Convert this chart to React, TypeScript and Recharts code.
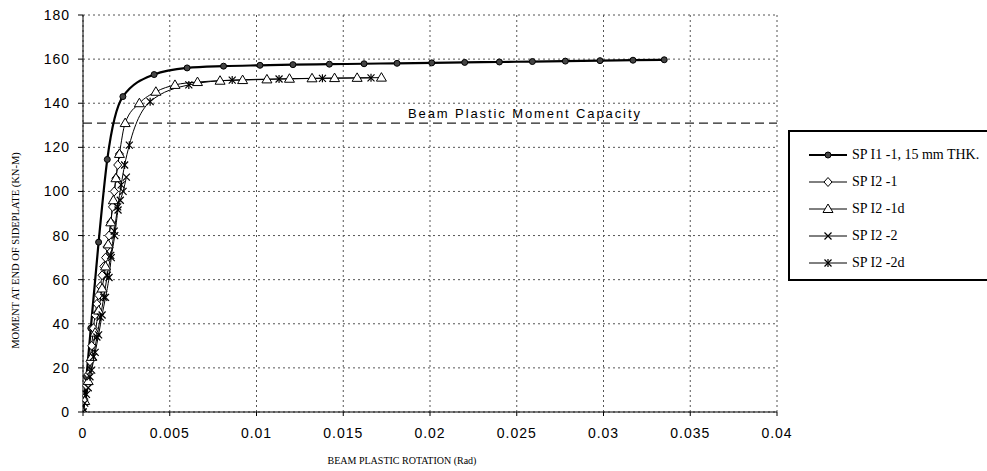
import React from 'react';
import { LineChart, Line, XAxis, YAxis, CartesianGrid, ReferenceLine, Legend } from 'recharts';

// SP I1-1, 15 mm THK. (filled circles)
const sp11X = [0, 0.0002, 0.00045, 0.0009, 0.0014, 0.0023, 0.0041, 0.006, 0.0081, 0.0102, 0.0121, 0.0142, 0.0162, 0.0181, 0.0201, 0.022, 0.024, 0.0259, 0.0278, 0.0298, 0.0317, 0.0335];
const sp11Y = [0, 16, 38, 77, 114.5, 143, 153, 156, 156.8, 157.2, 157.5, 157.7, 157.9, 158.1, 158.3, 158.5, 158.7, 158.9, 159.1, 159.3, 159.5, 159.7];

// SP I2-1 (open diamonds)
const sp21X = [0, 0.00004, 0.00019, 0.0003, 0.0004, 0.0005, 0.0006, 0.0007, 0.0008, 0.0009, 0.001, 0.0011, 0.0012, 0.0013, 0.0014, 0.0015, 0.0016, 0.0017, 0.0018, 0.0019, 0.002, 0.0021];
const sp21Y = [0, 6, 12, 17, 23, 30, 38, 44, 49, 53, 57, 62, 66, 70, 75, 80, 86, 93, 100, 106, 112, 117];

// SP I2-1d (open triangles)
const sp21dX = [0, 0.0001, 0.0003, 0.0005, 0.0007, 0.0009, 0.0011, 0.0013, 0.00145, 0.0016, 0.00175, 0.0019, 0.0021, 0.00243, 0.00325, 0.0042, 0.0053, 0.0066, 0.0079, 0.0092, 0.0106, 0.0119, 0.0132, 0.0145, 0.0158, 0.0172];
const sp21dY = [0, 5, 14, 25, 36, 46, 56, 66, 76, 86, 96, 106, 117, 131, 140, 145.2, 148.3, 149.6, 150.2, 150.5, 150.8, 151.1, 151.3, 151.4, 151.5, 151.6];

// SP I2-2 (crosses)
const sp22X = [0, 0.0001, 0.0003, 0.0005, 0.0007, 0.0009, 0.0011, 0.0013, 0.0015, 0.00163, 0.00183, 0.00202, 0.00215, 0.00231, 0.0025];
const sp22Y = [0, 4, 11, 19, 27, 35, 44, 52, 61, 70, 80, 91.6, 96, 100, 106.5];

// SP I2-2d (asterisks)
const sp22dX = [0, 0.0002, 0.0004, 0.0006, 0.0008, 0.001, 0.0012, 0.0014, 0.0016, 0.0018, 0.002, 0.0022, 0.0024, 0.00267, 0.00387, 0.0061, 0.0086, 0.0113, 0.0138, 0.0166];
const sp22dY = [0, 8, 16, 25, 34, 43, 52, 62, 71, 82, 93, 103, 112, 121, 140.7, 148.3, 150.5, 151, 151.3, 151.5];

const xTicks = [0, 0.005, 0.01, 0.015, 0.02, 0.025, 0.03, 0.035, 0.04];
const yTicks = [0, 20, 40, 60, 80, 100, 120, 140, 160, 180];
const capacity = 131;
const capacityLabel = 'Beam Plastic Moment Capacity';
const xTitle = 'BEAM  PLASTIC ROTATION (Rad)';
const yTitle = 'MOMENT AT END OF SIDEPLATE (KN-M)';
const seriesNames = ['SP I1 -1, 15 mm THK.', 'SP I2 -1', 'SP I2 -1d', 'SP I2 -2', 'SP I2 -2d'];
const seriesMarkers = ['circle', 'diamond', 'triangle', 'cross', 'star'];

const zip = (xs: number[], ys: number[]) => xs.map((x, i) => ({ x, y: ys[i] }));
const seriesData = [zip(sp11X, sp11Y), zip(sp21X, sp21Y), zip(sp21dX, sp21dY), zip(sp22X, sp22Y), zip(sp22dX, sp22dY)];

const SANS = '"Liberation Sans", Arial, sans-serif';
const SERIF = '"Liberation Serif", "Times New Roman", serif';

function Marker({ kind, cx, cy }: { kind: string; cx: number; cy: number }) {
  if (kind === 'circle') return <circle cx={cx} cy={cy} r={3} fill="#444" stroke="#000" strokeWidth={1} />;
  if (kind === 'diamond')
    return <path d={`M${cx},${cy - 4.5}L${cx + 4},${cy}L${cx},${cy + 4.5}L${cx - 4},${cy}Z`} fill="#fff" stroke="#000" strokeWidth={1} />;
  if (kind === 'triangle')
    return <path d={`M${cx},${cy - 5}L${cx + 5},${cy + 3.5}L${cx - 5},${cy + 3.5}Z`} fill="#fff" stroke="#000" strokeWidth={1} />;
  const x = (
    <path d={`M${cx - 3.5},${cy - 3.5}L${cx + 3.5},${cy + 3.5}M${cx - 3.5},${cy + 3.5}L${cx + 3.5},${cy - 3.5}`} stroke="#000" strokeWidth={1.2} fill="none" />
  );
  if (kind === 'cross') return x;
  return (
    <g>
      {x}
      <path d={`M${cx},${cy - 4}L${cx},${cy + 4}`} stroke="#000" strokeWidth={1.2} />
    </g>
  );
}

const makeDot = (kind: string) => (p: any) => {
  if (p.cx == null || p.cy == null) return <g key={`e-${p.index}`} />;
  return (
    <g key={`${kind}-${p.index}`}>
      <Marker kind={kind} cx={p.cx} cy={p.cy} />
    </g>
  );
};

const fmtX = (v: number) => (v === 0 ? '0' : String(Number(v.toFixed(3))));

const renderLegend = () => (
  <div
    style={{
      width: '100%',
      height: '100%',
      boxSizing: 'border-box',
      borderTop: '2px solid #000',
      borderLeft: '2px solid #000',
      borderBottom: '2px solid #000',
      position: 'relative',
      background: '#fff',
      fontFamily: SERIF,
      fontSize: 14,
      color: '#000',
    }}
  >
    {seriesNames.map((name, i) => (
      <div key={name} style={{ position: 'absolute', left: 19, top: 15 + i * 27, height: 16, display: 'flex', alignItems: 'center', whiteSpace: 'nowrap' }}>
        <svg width={38} height={16} style={{ display: 'block' }}>
          <line x1={0} y1={8} x2={38} y2={8} stroke="#000" strokeWidth={i === 0 ? 2.2 : 1} />
          <Marker kind={seriesMarkers[i]} cx={19} cy={8} />
        </svg>
        <span style={{ marginLeft: 5, lineHeight: '16px' }}>{name}</span>
      </div>
    ))}
  </div>
);

const YTitle = (props: any) => {
  const vb = props.viewBox || { x: 0, y: 15, width: 83, height: 397 };
  const x = vb.x + 15;
  const y = vb.y + vb.height / 2 + 37;
  return (
    <text x={x} y={y} transform={`rotate(-90 ${x} ${y})`} textAnchor="middle" dominantBaseline="central" fontFamily={SERIF} fontSize={10.5} fill="#000">
      {yTitle}
    </text>
  );
};

const XTitle = (props: any) => {
  const vb = props.viewBox || { x: 83, y: 412, width: 694, height: 59 };
  return (
    <text x={vb.x + 319} y={vb.y + 52} textAnchor="middle" fontFamily={SERIF} fontSize={10} fill="#000">
      {xTitle}
    </text>
  );
};

const CapLabel = (props: any) => {
  const vb = props.viewBox || { x: 83, y: 123, width: 694 };
  return (
    <text x={vb.x + 325} y={vb.y - 5} fontFamily={SANS} fontSize={13} letterSpacing={1.9} fill="#000">
      {capacityLabel}
    </text>
  );
};

export default function App() {
  return (
    <div style={{ position: 'fixed', left: 0, top: 0, width: 987, height: 471, overflow: 'hidden', background: '#fff' }}>
      <LineChart width={987} height={471} margin={{ top: 15, right: 210, bottom: 0, left: 0 }}>
        <CartesianGrid stroke="#555" strokeDasharray="2 3" />
        <XAxis
          type="number"
          dataKey="x"
          domain={[0, 0.04]}
          ticks={xTicks}
          tickFormatter={fmtX}
          height={59}
          stroke="#000"
          tickSize={4}
          tickMargin={12}
          tick={{ fill: '#000', fontFamily: SANS, fontSize: 14, letterSpacing: 1 }}
          allowDataOverflow
          label={XTitle}
        />
        <YAxis
          type="number"
          domain={[0, 180]}
          ticks={yTicks}
          width={83}
          stroke="#000"
          tickSize={5}
          tickMargin={8}
          tick={{ fill: '#000', fontFamily: SANS, fontSize: 14, letterSpacing: 1 }}
          allowDataOverflow
          label={YTitle}
        />
        <ReferenceLine y={capacity} stroke="#222" strokeWidth={1.2} strokeDasharray="9 5" label={CapLabel} />
        {seriesData.map((d, i) => (
          <Line
            key={seriesNames[i]}
            data={d}
            dataKey="y"
            name={seriesNames[i]}
            type="monotone"
            stroke="#000"
            strokeWidth={i === 0 ? 2.2 : 1}
            dot={makeDot(seriesMarkers[i])}
            activeDot={false}
            isAnimationActive={false}
          />
        ))}
        <Legend
          layout="horizontal"
          align="center"
          verticalAlign="middle"
          wrapperStyle={{ left: 788, top: 130, width: 205, height: 151 }}
          content={renderLegend}
        />
      </LineChart>
    </div>
  );
}
